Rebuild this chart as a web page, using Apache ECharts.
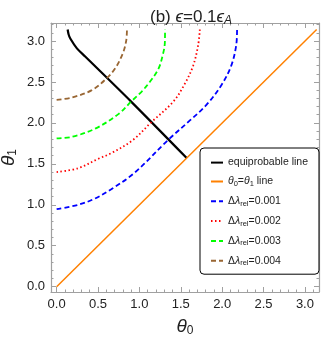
<!DOCTYPE html>
<html>
<head>
<meta charset="utf-8">
<script src="https://cdn.jsdelivr.net/npm/echarts@6/dist/echarts.min.js"></script>
<style>
  html, body { margin: 0; padding: 0; background: #fff; }
  #chart { width: 322px; height: 344px; }
</style>
</head>
<body>
<div id="chart"></div>
<script>
// axis ranges and ticks
var xRange = [-0.068, 3.17];
var yRange = [-0.065, 3.22];
var majorTicks = [0, 0.5, 1.0, 1.5, 2.0, 2.5, 3.0];
var xMinorTicks = [0.1, 0.2, 0.3, 0.4, 0.6, 0.7, 0.8, 0.9, 1.1, 1.2, 1.3, 1.4, 1.6, 1.7, 1.8, 1.9, 2.1, 2.2, 2.3, 2.4, 2.6, 2.7, 2.8, 2.9, 3.1];
var yMinorTicks = [0.1, 0.2, 0.3, 0.4, 0.6, 0.7, 0.8, 0.9, 1.1, 1.2, 1.3, 1.4, 1.6, 1.7, 1.8, 1.9, 2.1, 2.2, 2.3, 2.4, 2.6, 2.7, 2.8, 2.9, 3.1, 3.2];

// curves: [theta0, theta1]
var equiprobable = [[0.133, 3.14], [0.145, 3.08], [0.165, 3.03], [0.245, 2.91], [0.345, 2.81], [0.90, 2.26], [1.571, 1.571]];
var diagonal = [[0, 0], [3.1416, 3.1416]];
var dl001 = [[0, 0.946], [0.26, 1.0], [0.45, 1.07], [0.66, 1.19], [0.94, 1.39], [1.345, 1.79], [1.61, 2.03], [1.81, 2.22], [1.99, 2.46], [2.11, 2.70], [2.17, 2.95], [2.18, 3.14]];
var dl002 = [[0, 1.40], [0.26, 1.447], [0.51, 1.565], [0.66, 1.63], [0.92, 1.79], [1.146, 2.01], [1.41, 2.26], [1.55, 2.48], [1.65, 2.70], [1.71, 2.95], [1.73, 3.14]];
var dl003 = [[0, 1.81], [0.185, 1.83], [0.466, 1.93], [0.75, 2.11], [0.90, 2.26], [1.025, 2.38], [1.125, 2.50], [1.23, 2.66], [1.28, 2.82], [1.307, 2.97], [1.31, 3.14]];
var dl004 = [[0, 2.28], [0.185, 2.31], [0.426, 2.40], [0.60, 2.54], [0.71, 2.67], [0.80, 2.85], [0.84, 3.0], [0.85, 3.14]];

var seriesNames = ['equi', 'diag', 'd1', 'd2', 'd3', 'd4'];
var legendLabels = {
  equi: '{t|equiprobable line}',
  diag: '{i|θ}{s|0}{t|=}{i|θ}{s|1}{t| line}',
  d1: '{t|Δ}{i|λ}{s|rel}{t|=0.001}',
  d2: '{t|Δ}{i|λ}{s|rel}{t|=0.002}',
  d3: '{t|Δ}{i|λ}{s|rel}{t|=0.003}',
  d4: '{t|Δ}{i|λ}{s|rel}{t|=0.004}'
};

var frameColor = '#a0a0a0';
var fontFam = '"Liberation Sans", Arial, sans-serif';

function frameAxis(pos, range, values, len, withLine, withLabel, extra) {
  var ax = {
    type: 'value',
    position: pos,
    min: range[0],
    max: range[1],
    splitLine: { show: false },
    axisLine: { show: withLine, onZero: false, lineStyle: { color: frameColor, width: 1.2 } },
    axisTick: { show: true, inside: true, length: len, customValues: values, lineStyle: { color: frameColor, width: 1 } },
    axisLabel: { show: withLabel, customValues: values, color: '#222', fontSize: 13, fontFamily: fontFam, margin: 6,
      formatter: function (v) { return v.toFixed(1); } }
  };
  for (var k in extra) ax[k] = extra[k];
  return ax;
}

var chart = echarts.init(document.getElementById('chart'), null, { renderer: 'canvas' });

function lineSeries(name, data, color, width, type, smooth) {
  return {
    name: name,
    type: 'line',
    data: data,
    xAxisIndex: 0,
    yAxisIndex: 0,
    symbol: 'none',
    smooth: smooth,
    lineStyle: { color: color, width: width, type: type },
    itemStyle: { color: color },
    z: 3
  };
}

var option = {
  backgroundColor: '#fff',
  animation: false,
  title: {
    text: '{t|(b) }{i|ϵ}{t|=0.1}{i|ϵ}{si|A}',
    left: 186,
    textAlign: 'center',
    top: 2,
    textStyle: {
      fontWeight: 'normal',
      rich: {
        t: { fontSize: 17, fontFamily: fontFam, fontWeight: 'normal', color: '#222' },
        i: { fontSize: 17, fontFamily: fontFam, fontWeight: 'normal', fontStyle: 'italic', color: '#222' },
        si: { fontSize: 12, fontFamily: fontFam, fontWeight: 'normal', fontStyle: 'italic', color: '#222', padding: [8, 0, 0, 0] }
      }
    }
  },
  grid: { left: 51, top: 23, width: 268, height: 269, containLabel: false, outerBoundsMode: 'none' },
  xAxis: [
    frameAxis('bottom', xRange, majorTicks, 5, true, true, {
      name: '{i|θ}{s|0}',
      nameLocation: 'middle',
      nameGap: 24,
      nameTextStyle: { rich: {
        i: { fontSize: 19, fontStyle: 'italic', fontFamily: fontFam, color: '#222' },
        s: { fontSize: 12, fontFamily: fontFam, color: '#222', padding: [9, 0, 0, 0] }
      } }
    }),
    frameAxis('bottom', xRange, xMinorTicks, 2.5, false, false, {}),
    frameAxis('top', xRange, majorTicks, 5, true, false, {}),
    frameAxis('top', xRange, xMinorTicks, 2.5, false, false, {})
  ],
  yAxis: [
    frameAxis('left', yRange, majorTicks, 5, true, true, {
      name: '{i|θ}{s|1}',
      nameLocation: 'middle',
      nameGap: 32,
      nameRotate: 90,
      nameMoveOverlap: false,
      nameTextStyle: { rich: {
        i: { fontSize: 19, fontStyle: 'italic', fontFamily: fontFam, color: '#222' },
        s: { fontSize: 12, fontFamily: fontFam, color: '#222', padding: [9, 0, 0, 0] }
      } }
    }),
    frameAxis('left', yRange, yMinorTicks, 2.5, false, false, {}),
    frameAxis('right', yRange, majorTicks, 5, true, false, {}),
    frameAxis('right', yRange, yMinorTicks, 2.5, false, false, {})
  ],
  legend: {
    data: seriesNames,
    orient: 'vertical',
    left: 200,
    top: 148,
    padding: [9, 11, 7, 10],
    itemGap: 7.7,
    itemWidth: 12,
    itemHeight: 14,
    borderColor: '#000',
    borderWidth: 1,
    borderRadius: 4,
    backgroundColor: '#fff',
    selectedMode: false,
    itemStyle: { opacity: 0 },
    formatter: function (name) { return legendLabels[name]; },
    textStyle: {
      rich: {
        t: { fontSize: 10.5, fontFamily: fontFam, color: '#222' },
        i: { fontSize: 10.5, fontFamily: fontFam, fontStyle: 'italic', color: '#222' },
        s: { fontSize: 7.5, fontFamily: fontFam, color: '#222', padding: [5, 0, 0, 0] }
      }
    }
  },
  series: [
    lineSeries('equi', equiprobable, '#000', 2.2, 'solid', 0.3),
    lineSeries('diag', diagonal, '#ff8000', 1.5, 'solid', false),
    lineSeries('d1', dl001, '#0000ff', 1.8, [5, 3], 0.35),
    lineSeries('d2', dl002, '#ff0000', 1.8, [1.5, 2.5], 0.35),
    lineSeries('d3', dl003, '#00ff00', 1.8, [5, 3], 0.35),
    lineSeries('d4', dl004, '#996633', 1.8, [5, 3], 0.35)
  ]
};

chart.setOption(option);
</script>
</body>
</html>
